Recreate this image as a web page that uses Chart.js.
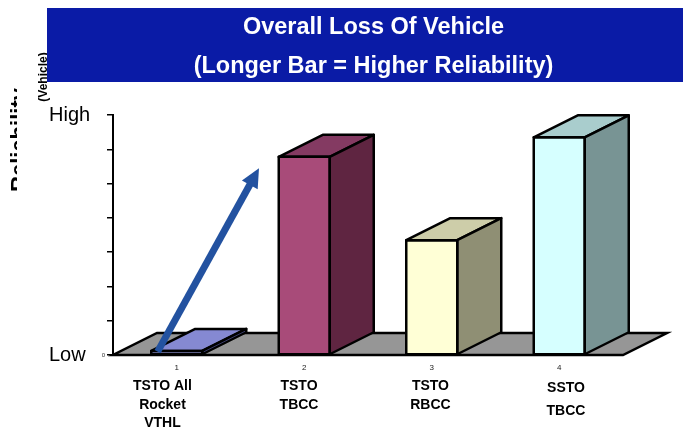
<!DOCTYPE html>
<html><head><meta charset="utf-8">
<script src="https://cdn.jsdelivr.net/npm/chart.js@4/dist/chart.umd.min.js"></script>
<style>html,body{margin:0;padding:0;background:#fff;overflow:hidden}</style>
</head><body>
<canvas id="c" width="686" height="433"></canvas>
<script>
// ---- data ----
const categories = ['1', '2', '3', '4'];
const vehicleLabels = [['TSTO All', 'Rocket', 'VTHL'], ['TSTO', 'TBCC'], ['TSTO', 'RBCC'], ['SSTO', 'TBCC']];
const reliability = [0.12, 5.78, 3.35, 6.35];
const yTickLabels = { 7: 'High', 0: 'Low' };
const titleLines = ['Overall Loss Of Vehicle', '(Longer Bar = Higher Reliability)'];
const axisTitle = 'Reliability';
const axisSubTitle = '(Vehicle)';
// annotation arrow in data units (category index, value)
const arrowFrom = { x: -0.15, y: 0.1 };
const arrowTo = { x: 0.645, y: 5.45 };

// ---- styles ----
const FONT = '"Liberation Sans", Arial, Helvetica, sans-serif';
const frontColors = ['#A3A9EE', '#A84B79', '#FFFFD6', '#D6FFFF'];
const topColors = ['#8589D2', '#843A62', '#CDCDA9', '#A9CDCD'];
const sideColors = ['#4E5290', '#5F2541', '#8F8F74', '#789494'];
const DEPTH = { dx: 44, dy: -22 };

function poly(ctx, pts, fill) {
  ctx.beginPath();
  ctx.moveTo(pts[0][0], pts[0][1]);
  for (let i = 1; i < pts.length; i++) ctx.lineTo(pts[i][0], pts[i][1]);
  ctx.closePath();
  if (fill) { ctx.fillStyle = fill; ctx.fill(); }
  ctx.stroke();
}

const deco = {
  id: 'deco',
  afterLayout(chart) {
    const t = chart.titleBlock;
    if (t) { t.left += 6; t.right += 6; }
  },
  beforeDraw(chart) {
    const ctx = chart.ctx;
    ctx.save();
    ctx.fillStyle = '#fff';
    ctx.fillRect(0, 0, chart.width, chart.height);
    ctx.fillStyle = '#000';
    // clipped rotated axis title (only the tops of the glyphs show)
    ctx.save();
    ctx.beginPath(); ctx.rect(9, 0, 8, chart.height); ctx.clip();
    ctx.translate(26, 140); ctx.rotate(-Math.PI / 2);
    ctx.font = 'bold 22px ' + FONT; ctx.textAlign = 'center'; ctx.textBaseline = 'alphabetic';
    ctx.fillText(axisTitle, 0, 0);
    ctx.restore();
    ctx.save();
    ctx.translate(47, 77); ctx.rotate(-Math.PI / 2);
    ctx.font = 'bold 12px ' + FONT; ctx.textAlign = 'center'; ctx.textBaseline = 'alphabetic';
    ctx.fillText(axisSubTitle, 0, 0);
    ctx.restore();
    // title banner
    ctx.fillStyle = '#0A1BA6';
    ctx.fillRect(47, 8, 636, 74);
    ctx.restore();
  },
  beforeDatasetsDraw(chart) {
    const ctx = chart.ctx;
    const { left, right } = chart.chartArea;
    const yb = chart.scales.y.getPixelForValue(0);
    ctx.save();
    ctx.lineWidth = 2.5; ctx.strokeStyle = '#000'; ctx.lineJoin = 'miter';
    poly(ctx, [[left, yb], [right, yb], [right + DEPTH.dx, yb + DEPTH.dy], [left + DEPTH.dx, yb + DEPTH.dy]], '#969696');
    ctx.restore();
  },
  afterDatasetsDraw(chart) {
    const ctx = chart.ctx;
    const meta = chart.getDatasetMeta(0);
    const { dx, dy } = DEPTH;
    ctx.save();
    ctx.lineWidth = 2.5; ctx.strokeStyle = '#000'; ctx.lineJoin = 'round';
    meta.data.forEach((el, i) => {
      const { x, y, base, width } = el.getProps(['x', 'y', 'base', 'width'], true);
      const L = x - width / 2, R = x + width / 2;
      poly(ctx, [[L, y], [R, y], [R + dx, y + dy], [L + dx, y + dy]], topColors[i]);
      poly(ctx, [[R, y], [R + dx, y + dy], [R + dx, base + dy], [R, base]], sideColors[i]);
      poly(ctx, [[L, y], [R, y], [R, base], [L, base]], null);
    });
    // arrow
    const xs = chart.scales.x, ys = chart.scales.y;
    const x0 = xs.getPixelForValue(arrowFrom.x), y0 = ys.getPixelForValue(arrowFrom.y);
    const x1 = xs.getPixelForValue(arrowTo.x), y1 = ys.getPixelForValue(arrowTo.y);
    const len = Math.hypot(x1 - x0, y1 - y0);
    const ux = (x1 - x0) / len, uy = (y1 - y0) / len;
    const nx = -uy, ny = ux;
    const headLen = 19, headHalf = 9;
    const bx = x1 - ux * headLen, by = y1 - uy * headLen;
    ctx.strokeStyle = '#2352A0'; ctx.fillStyle = '#2352A0';
    ctx.lineWidth = 7; ctx.lineCap = 'butt';
    ctx.beginPath(); ctx.moveTo(x0, y0); ctx.lineTo(bx + ux * 2, by + uy * 2); ctx.stroke();
    ctx.beginPath();
    ctx.moveTo(x1, y1);
    ctx.lineTo(bx + nx * headHalf, by + ny * headHalf);
    ctx.lineTo(bx - nx * headHalf, by - ny * headHalf);
    ctx.closePath(); ctx.fill();
    ctx.restore();
  }
};

new Chart(document.getElementById('c'), {
  type: 'bar',
  data: {
    labels: categories,
    datasets: [{
      data: reliability,
      backgroundColor: frontColors,
      borderWidth: 0,
      categoryPercentage: 1,
      barPercentage: 0.4
    }]
  },
  options: {
    responsive: false,
    animation: false,
    events: [],
    layout: { padding: { left: 49, right: 0, top: 0, bottom: 0 } },
    plugins: {
      legend: { display: false },
      tooltip: { enabled: false },
      title: {
        display: true,
        text: titleLines,
        color: '#fff',
        font: { family: FONT, size: 23.5, weight: 'bold', lineHeight: 39.5 / 23.5 },
        padding: { top: 7.5, bottom: 28.5 }
      }
    },
    scales: {
      x: {
        type: 'category',
        position: 'bottom',
        weight: 0,
        grid: { display: false, drawTicks: false },
        border: { display: false },
        ticks: { padding: 8, color: '#222', font: { family: FONT, size: 8 }, maxRotation: 0, autoSkip: false },
        afterFit(s) { s.height = 20; }
      },
      x2: {
        type: 'linear',
        position: 'bottom',
        weight: 1,
        offset: false,
        min: -0.5,
        max: 3.5,
        grid: { display: false, drawTicks: false, offset: false },
        border: { display: false },
        afterBuildTicks(s) {
          const nudge = [-0.112, -0.041, -0.01, 0.053];
          s.ticks = vehicleLabels.map((_, i) => ({ value: i + nudge[i] }));
        },
        ticks: {
          padding: 2,
          autoSkip: false,
          maxRotation: 0,
          color: '#000',
          font: (c) => ({ family: FONT, size: 14, weight: 'bold', lineHeight: (c.index === 3 ? 23 : 18.5) / 14 }),
          callback: (v, i) => vehicleLabels[i]
        },
        afterFit(s) { s.height = 58; }
      },
      y: {
        position: 'left',
        weight: 0,
        min: 0,
        max: 7,
        ticks: { stepSize: 1, padding: 2, color: '#333', font: { family: FONT, size: 6 }, callback: (v) => (v === 0 ? '0' : '') },
        grid: { drawOnChartArea: false, tickLength: 6, color: '#000', lineWidth: 1.5 },
        border: { color: '#000', width: 2 },
        afterFit(s) { s.width = 18; }
      },
      yHL: {
        position: 'left',
        weight: 1,
        min: 0,
        max: 7,
        ticks: { stepSize: 1, crossAlign: 'far', color: '#000', font: { family: FONT, size: 20 }, callback: (v) => yTickLabels[v] || '' },
        grid: { display: false },
        border: { display: false },
        afterFit(s) { s.width = 46; }
      },
      yR: {
        position: 'right',
        min: 0,
        max: 1,
        grid: { display: false },
        border: { display: false },
        ticks: { display: false },
        afterFit(s) { s.width = 63; }
      }
    }
  },
  plugins: [deco]
});
</script>
</body></html>
